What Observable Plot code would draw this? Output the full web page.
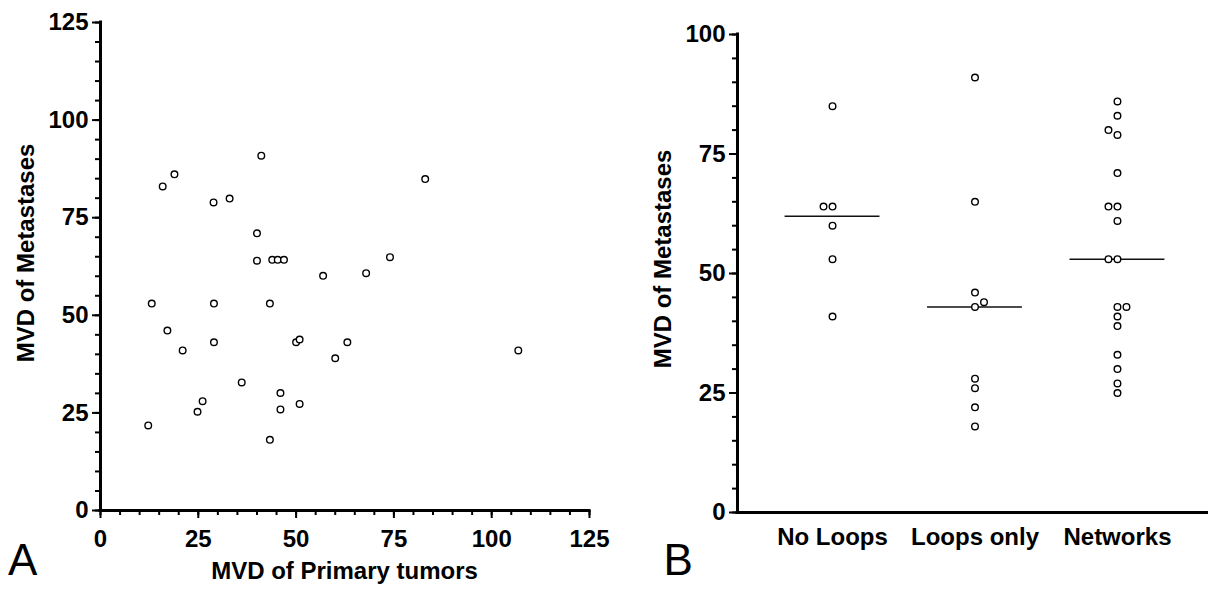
<!DOCTYPE html>
<html><head><meta charset="utf-8">
<script src="https://cdn.jsdelivr.net/npm/d3@7"></script>
<script src="https://cdn.jsdelivr.net/npm/@observablehq/plot@0.6"></script>
<style>
html,body{margin:0;padding:0;background:#fff;}
#wrap{position:relative;width:1208px;height:592px;overflow:hidden;}
#panelA,#panelB,#overlay{position:absolute;top:0;}
#panelA{left:0;}
#panelB{left:620px;}
#overlay{left:0;pointer-events:none;}
</style></head><body>
<div id="wrap">
<div id="panelA"></div>
<div id="panelB"></div>
<svg id="overlay" width="1208" height="592" font-family="Liberation Sans, Arial, sans-serif" fill="black">
<text x="344.5" y="579" text-anchor="middle" font-size="24" font-weight="bold">MVD of Primary tumors</text>
<text transform="translate(34,253) rotate(-90)" text-anchor="middle" font-size="24" font-weight="bold">MVD of Metastases</text>
<text transform="translate(671,259) rotate(-90)" text-anchor="middle" font-size="24" font-weight="bold">MVD of Metastases</text>
<text x="8" y="575" font-size="44">A</text>
<text x="663.5" y="575" font-size="44">B</text>
</svg>
</div>
<script>
// ---- Panel A data: MVD of primary tumors vs MVD of metastases ----
const primaryMVD = [13.1, 29, 43.3, 17.1, 21, 29, 50, 50.9, 63.1, 60, 106.8, 36.1, 46, 26.1, 24.8, 46, 50.9, 12.2, 43.3,
                    15.9, 18.9, 41.1, 83, 28.9, 33, 40, 40, 43.9, 45.3, 46.9, 56.9, 67.9, 74];
const metastasisMVD = [53, 53, 53, 46.1, 41, 43.1, 43.1, 43.8, 43.1, 39, 41, 32.8, 30.1, 28, 25.3, 25.9, 27.3, 21.8, 18.1,
                       83, 86.1, 90.9, 84.9, 78.9, 79.9, 71, 64, 64.2, 64.2, 64.2, 60.1, 60.8, 64.9];
const ticksA = [0, 25, 50, 75, 100, 125];

// ---- Panel B data: MVD of metastases by vascular pattern ----
const categories = ["No Loops", "Loops only", "Networks"];
const noLoops = [85, 64, 64, 60, 53, 41];
const loopsOnly = [91, 65, 46, 44, 43, 28, 26, 22, 18];
const networks = [86, 83, 80, 79, 71, 64, 64, 61, 53, 53, 43, 43, 41, 39, 33, 30, 27, 25];
const ticksB = [0, 25, 50, 75, 100];

const font = "Liberation Sans, Arial, sans-serif";
const baseStyle = {fontFamily: font, fontSize: "24px", fontWeight: "bold", color: "black", background: "white"};

// ---------------- Panel A ----------------
const pointsA = primaryMVD.map((p, i) => ({primary: p, metastasis: metastasisMVD[i]}));
const minorA = d3.range(0, 126, 5);
const chartA = Plot.plot({
  width: 620, height: 592,
  marginLeft: 100, marginRight: 31, marginTop: 22, marginBottom: 82,
  x: {domain: [0, 125]},
  y: {domain: [0, 125]},
  style: baseStyle,
  marks: [
    Plot.axisY(minorA, {tickSize: 5, tickFormat: () => "", strokeWidth: 2, label: null}),
    Plot.axisY(ticksA, {tickSize: 8, tickPadding: 4, strokeWidth: 2, label: null, fontSize: 24, fontWeight: "bold"}),
    Plot.axisX(minorA, {tickSize: 5, tickFormat: () => "", strokeWidth: 2, label: null}),
    Plot.axisX(ticksA, {tickSize: 8, tickPadding: 11, strokeWidth: 2, label: null, fontSize: 24, fontWeight: "bold"}),
    Plot.ruleX([0], {strokeWidth: 3, strokeLinecap: "square"}),
    Plot.ruleY([0], {strokeWidth: 3, strokeLinecap: "square"}),
    Plot.dot(pointsA, {x: "primary", y: "metastasis", r: 3.3, fill: "white", stroke: "black", strokeWidth: 1.4})
  ]
});
document.getElementById("panelA").append(chartA);

// ---------------- Panel B ----------------
const groups = [noLoops, loopsOnly, networks];
const widthB = 588, marginLeftB = 117, marginRightB = 0;
const xDomainB = [-0.667, 2.639];
const pxPerUnit = (widthB - marginLeftB - marginRightB) / (xDomainB[1] - xDomainB[0]);
const dodgeStep = 9 / pxPerUnit;     // horizontal spacing of side-by-side dots
const collide = 1.5;                 // values closer than this overlap

// simple column-scatter layout: process ascending, shift colliding dots sideways
const pointsB = [];
groups.forEach((vals, gi) => {
  const placed = [];
  [...vals].sort((a, b) => a - b).forEach(v => {
    const pref = v < 50 ? 1 : -1;
    const order = [0, pref, -pref, 2 * pref, -2 * pref];
    let slot = order.find(s => !placed.some(p => p.slot === s && Math.abs(p.v - v) < collide));
    if (slot === undefined) slot = 0;
    placed.push({v, slot});
    pointsB.push({group: gi, value: v, xpos: gi + slot * dodgeStep});
  });
});
const medians = groups.map((vals, gi) => ({group: gi, median: d3.median(vals)}));

const chartB = Plot.plot({
  width: widthB, height: 592,
  marginLeft: marginLeftB, marginRight: marginRightB, marginTop: 34, marginBottom: 80,
  x: {domain: xDomainB},
  y: {domain: [0, 100]},
  style: baseStyle,
  marks: [
    Plot.axisY(d3.range(0, 101, 5), {tickSize: 5, tickFormat: () => "", strokeWidth: 2, label: null}),
    Plot.axisY(ticksB, {tickSize: 8, tickPadding: 4, strokeWidth: 2, label: null, fontSize: 24, fontWeight: "bold"}),
    Plot.axisX([0, 1, 2], {tickSize: 0, tickPadding: 15, tickFormat: i => categories[i], label: null, fontSize: 24, fontWeight: "bold"}),
    Plot.ruleX([xDomainB[0]], {strokeWidth: 3, strokeLinecap: "square"}),
    Plot.ruleY([0], {strokeWidth: 3, strokeLinecap: "square"}),
    Plot.ruleY(medians, {y: "median", x1: d => d.group - 0.333, x2: d => d.group + 0.333, stroke: "#111", strokeWidth: 1.5}),
    Plot.dot(pointsB, {x: "xpos", y: "value", r: 3.3, fill: "white", stroke: "black", strokeWidth: 1.4})
  ]
});
document.getElementById("panelB").append(chartB);
</script>
</body></html>
